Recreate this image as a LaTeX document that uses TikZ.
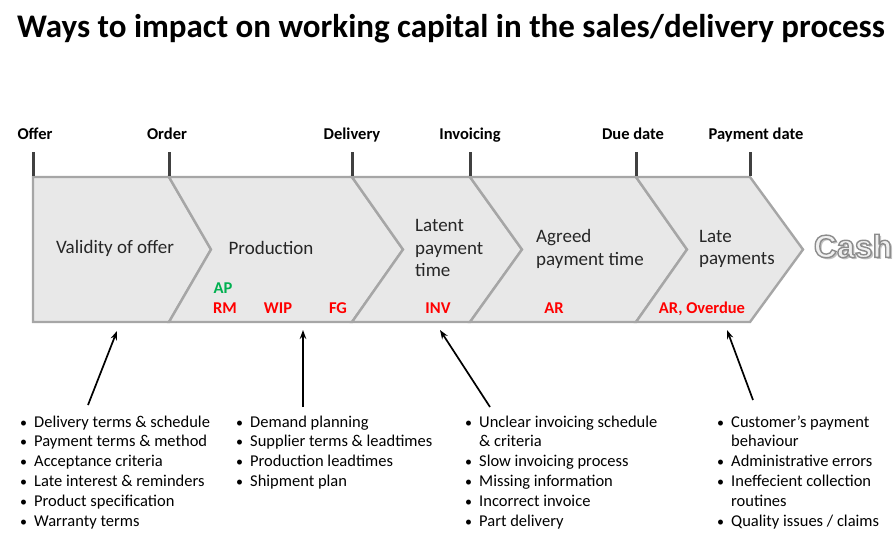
\documentclass[tikz,border=0pt]{standalone}
\usepackage{fontspec}
\setmainfont{Carlito}
\newfontfamily\cashfont{Liberation Sans}
\usetikzlibrary{arrows.meta}
\definecolor{chevfill}{HTML}{E8E8E8}
\definecolor{chevline}{HTML}{A6A6A6}
\definecolor{tickcol}{HTML}{404040}
\definecolor{wcred}{HTML}{FF0000}
\definecolor{wcgreen}{HTML}{00B050}
\definecolor{cashgray}{HTML}{9A9A9A}
\tikzset{
  chev/.style={fill=chevfill,draw=chevline,line width=2.4pt,line join=miter},
  tickline/.style={draw=tickcol,line width=3pt},
  milestone/.style={font=\fontsize{16.5}{18}\selectfont\bfseries,inner sep=0,anchor=base},
  phase/.style={font=\fontsize{19}{22.5}\selectfont,inner sep=0,align=left,text=black!85},
  wclabel/.style={font=\fontsize{16.5}{18}\selectfont\bfseries,inner sep=0,text=wcred,anchor=base},
  pointer/.style={draw=black,line width=1.7pt,-{Stealth[length=9pt,width=6.5pt]}},
  bulletlist/.style={inner sep=0,anchor=base west,font=\fontsize{16.5}{19.8}\selectfont},
  cashtext/.style={inner sep=0,font=\fontsize{32}{36}\selectfont\cashfont\bfseries},
}
\newcommand{\bl}{\makebox[14pt][l]{\fontsize{14}{14}\selectfont\textbullet}}
\begin{document}
\begin{tikzpicture}[x=1pt,y=-1pt]
\useasboundingbox (0,0) rectangle (896,538);
% title
\node[inner sep=0,font=\fontsize{33}{36}\selectfont\bfseries] (title) at (451,29) {Ways to impact on working capital in the sales/delivery process};
% chevrons
\path[chev] (33,177) -- (169,177) -- (211,249.5) -- (169,322) -- (33,322) -- cycle;
\path[chev] (169,177) -- (352,177) -- (403,249.5) -- (352,322) -- (169,322) -- (211,249.5) -- cycle;
\path[chev] (352,177) -- (470,177) -- (522,249.5) -- (470,322) -- (352,322) -- (403,249.5) -- cycle;
\path[chev] (470,177) -- (636,177) -- (687,249.5) -- (636,322) -- (470,322) -- (522,249.5) -- cycle;
\path[chev] (636,177) -- (750,177) -- (803,249.5) -- (750,322) -- (636,322) -- (687,249.5) -- cycle;
% ticks
\foreach \x in {33,169,352,470,636,750} \draw[tickline] (\x,152) -- (\x,176);
% milestones
\node[milestone] (offer) at (35,139.5) {Offer};
\node[milestone] (order) at (167,139.5) {Order};
\node[milestone] (delivery) at (352,139.5) {Delivery};
\node[milestone] (invoicing) at (470,139.5) {Invoicing};
\node[milestone] (duedate) at (633,139.5) {Due date};
\node[milestone] (paydate) at (756,139.5) {Payment date};
% phases
\node[phase] (validity) at (115,248) {Validity of offer};
\node[phase] (production) at (271,248) {Production};
\node[phase,anchor=west] (latent) at (415,248) {Latent\\payment\\time};
\node[phase,anchor=west] (agreed) at (536,249) {Agreed\\payment time};
\node[phase,anchor=west] (late) at (699,249) {Late\\payments};
% working capital labels
\node[wclabel,text=wcgreen] (ap) at (223,293) {AP};
\node[wclabel] (rm) at (225,313) {RM};
\node[wclabel] (wip) at (278,313) {WIP};
\node[wclabel] (fg) at (338,313) {FG};
\node[wclabel] (inv) at (438,313) {INV};
\node[wclabel] (ar) at (554,313) {AR};
\node[wclabel] (aro) at (702,313) {AR, Overdue};
% Cash: shadow and outlined text in one node
\node[cashtext,text=white!94!black] (cash) at (853,247) {\rlap{\hspace{2pt}\raisebox{-2pt}{\color{cashgray!60}Cash}}\special{pdf:literal direct 2 Tr 0.55 0.55 0.55 RG 1.4 w}Cash\special{pdf:literal direct 0 Tr}};
% bullet lists
\node[bulletlist] (list1) at (20,427) {\begin{tabular}[t]{@{}l@{}}
\bl Delivery terms \& schedule\\
\bl Payment terms \& method\\
\bl Acceptance criteria\\
\bl Late interest \& reminders\\
\bl Product specification\\
\bl Warranty terms
\end{tabular}};
\node[bulletlist] (list2) at (236,427) {\begin{tabular}[t]{@{}l@{}}
\bl Demand planning\\
\bl Supplier terms \& leadtimes\\
\bl Production leadtimes\\
\bl Shipment plan
\end{tabular}};
\node[bulletlist] (list3) at (465,427) {\begin{tabular}[t]{@{}l@{}}
\bl Unclear invoicing schedule\\
\hspace*{14pt}\& criteria\\
\bl Slow invoicing process\\
\bl Missing information\\
\bl Incorrect invoice\\
\bl Part delivery
\end{tabular}};
\node[bulletlist] (list4) at (717,427) {\begin{tabular}[t]{@{}l@{}}
\bl Customer’s payment\\
\hspace*{14pt}behaviour\\
\bl Administrative errors\\
\bl Ineffecient collection\\
\hspace*{14pt}routines\\
\bl Quality issues / claims
\end{tabular}};
% pointers
\coordinate (p1s) at (88,405); \coordinate (p1e) at (117,331);
\coordinate (p2s) at (303,407); \coordinate (p2e) at (303,330);
\coordinate (p3s) at (490,407); \coordinate (p3e) at (440,330);
\coordinate (p4s) at (753,400); \coordinate (p4e) at (727,330);
\draw[pointer] (p1s) -- (p1e);
\draw[pointer] (p2s) -- (p2e);
\draw[pointer] (p3s) -- (p3e);
\draw[pointer] (p4s) -- (p4e);
\end{tikzpicture}
\end{document}
